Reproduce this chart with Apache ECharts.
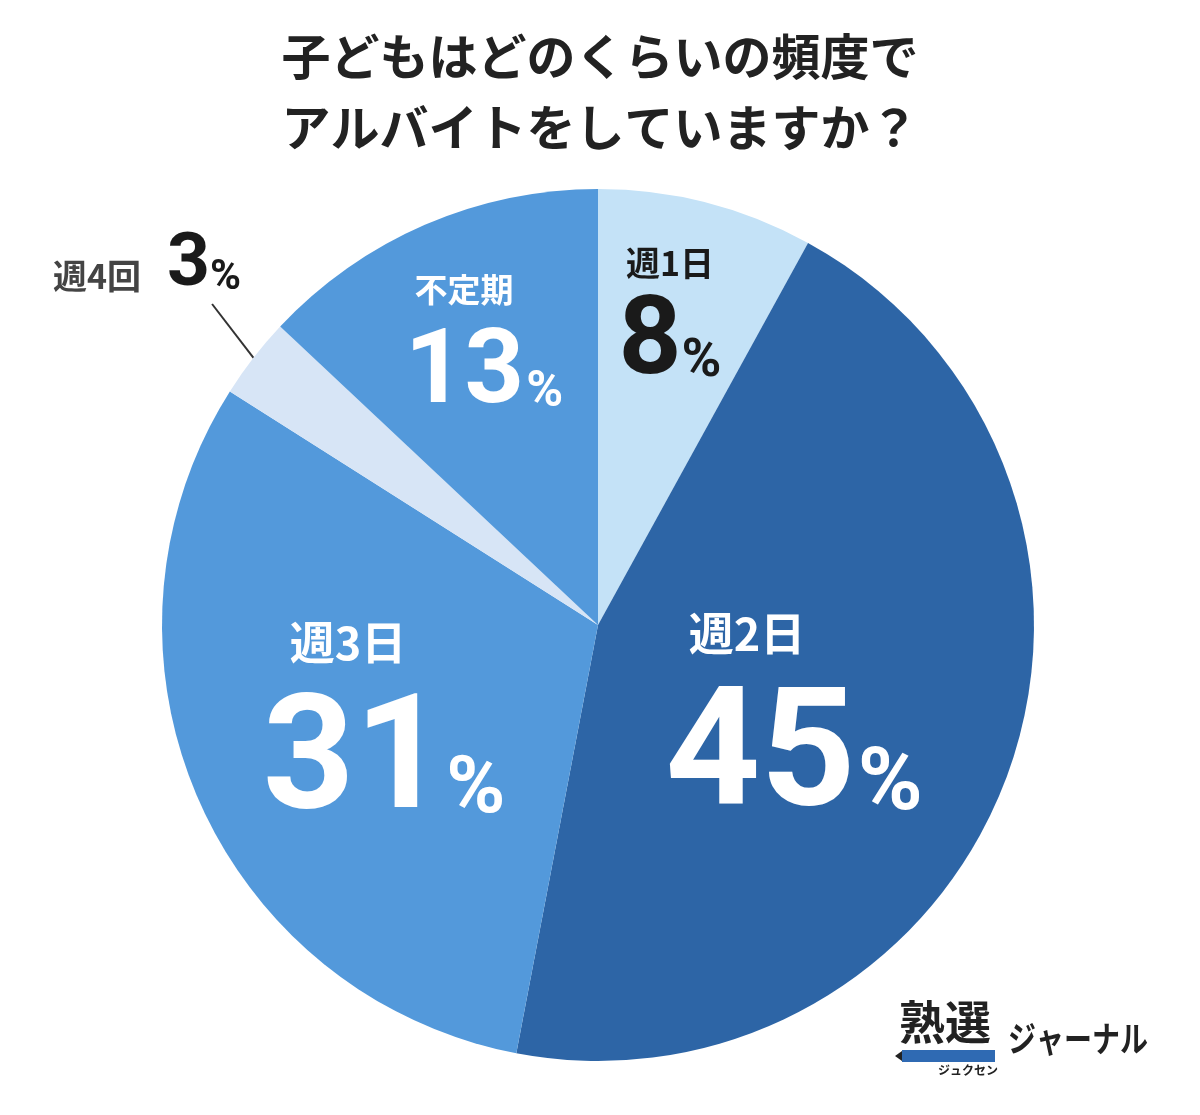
<!DOCTYPE html>
<html>
<head>
<meta charset="utf-8">
<script src="https://cdn.jsdelivr.net/npm/echarts@6/dist/echarts.min.js"></script>
<style>
  html, body { margin: 0; padding: 0; background: #ffffff; }
  #main { width: 1200px; height: 1115px; }
</style>
</head>
<body>
<div id="main"></div>
<script>
// データ
const categories = ['週1日', '週2日', '週3日', '週4回', '不定期'];
const values = [8, 45, 31, 3, 13];

const jp = '"Noto Sans CJK JP", "Noto Sans", sans-serif';
const num = 'Roboto, "Noto Sans", sans-serif';

// スライスごとの見た目
const sliceColors = ['#c4e2f7', '#2d65a6', '#5399db', '#d7e5f6', '#5399db'];

// 2段ラベル（名前＋数値）
const twoLine = (color, nameSize, nameLH, nameShift, numSize, pctSize, pctPadL, pctPadB) => ({
  n: { fontFamily: jp, fontWeight: 'bold', fontSize: nameSize, color: color, lineHeight: nameLH, padding: [0, nameShift, 0, 0] },
  v: { fontFamily: num, fontWeight: 'bold', fontSize: numSize, color: color, lineHeight: numSize * 0.95, verticalAlign: 'bottom' },
  p: { fontFamily: num, fontWeight: 'bold', fontSize: pctSize, color: color, lineHeight: numSize * 0.95, verticalAlign: 'bottom', padding: [0, 0, pctPadB, pctPadL] }
});

const labelStyles = [
  { pos: [670, 315], rich: twoLine('#1a1a1a', 34, 67, 0, 110, 54, 0, 11) },
  { pos: [794, 713], rich: twoLine('#ffffff', 45, 108, 94, 166, 88, 2, 15) },
  { pos: [384, 719], rich: twoLine('#ffffff', 45, 104, 72, 160, 80, 0, 15) },
  { pos: [53, 319], outside: true },
  { pos: [484, 339], rich: twoLine('#ffffff', 33, 80, 40, 104, 50, 2, 10) }
];

// 外側ラベル（週4回）: s は引き出し線の位置合わせ用の余白
const outsideRich = {
  n: { fontFamily: jp, fontWeight: 'bold', fontSize: 34, color: '#444444', padding: [0, 26, 11, 0], verticalAlign: 'bottom', lineHeight: 70 },
  v: { fontFamily: num, fontWeight: 'bold', fontSize: 75, color: '#1a1a1a', verticalAlign: 'bottom', lineHeight: 70 },
  p: { fontFamily: num, fontWeight: 'bold', fontSize: 42, color: '#1a1a1a', verticalAlign: 'bottom', lineHeight: 70, padding: [0, 0, 5, 0] },
  s: { fontSize: 10, width: 130, lineHeight: 70, verticalAlign: 'bottom' }
};

const seriesData = categories.map((name, i) => {
  const st = labelStyles[i];
  return {
    name: name,
    value: values[i],
    itemStyle: { color: sliceColors[i] },
    label: st.outside ? {
      show: true,
      position: 'outside',
      formatter: `{n|${name}}{v|${values[i]}}{p|%}{s| }`,
      rich: outsideRich,
      overflow: 'none',
      padding: [0, 0, 15, 0]
    } : {
      show: true,
      position: 'inside',
      formatter: `{n|${name}}\n{v|${values[i]}}{p|%}`,
      rich: st.rich
    },
    labelLine: {
      show: !!st.outside,
      length: 20,
      length2: 0,
      lineStyle: { color: '#333333', width: 2 }
    }
  };
});

const chart = echarts.init(document.getElementById('main'));
chart.setOption({
  animation: false,
  title: {
    text: '子どもはどのくらいの頻度で\nアルバイトをしていますか？',
    left: 'center',
    top: 16,
    textStyle: {
      fontFamily: jp,
      fontWeight: 'bold',
      fontSize: 49,
      color: '#222222',
      lineHeight: 71
    }
  },
  graphic: [
    {
      type: 'text',
      left: 899,
      top: 999,
      style: { text: '熟選', font: 'bold 46px "Noto Sans CJK JP"', fill: '#222222' }
    },
    {
      type: 'rect',
      shape: { x: 902, y: 1050, width: 93, height: 12 },
      style: { fill: '#2f6ab3' }
    },
    {
      type: 'polygon',
      shape: { points: [[902, 1051], [902, 1061], [895, 1056]] },
      style: { fill: '#222222' }
    },
    {
      type: 'text',
      left: 938,
      top: 1064,
      style: { text: 'ジュクセン', font: 'bold 12px "Noto Sans CJK JP"', fill: '#222222' }
    },
    {
      type: 'text',
      x: 1008,
      y: 1021,
      scaleX: 0.8,
      style: { text: 'ジャーナル', font: 'bold 35px "Noto Sans CJK JP"', fill: '#222222' }
    }
  ],
  series: [
    {
      type: 'pie',
      center: [598, 625],
      radius: [0, 436],
      startAngle: 90,
      clockwise: true,
      data: seriesData,
      labelLayout: function (params) {
        const st = labelStyles[params.dataIndex];
        if (st.outside) {
          return { x: st.pos[0], y: st.pos[1], align: 'left', verticalAlign: 'bottom' };
        }
        return { x: st.pos[0], y: st.pos[1], align: 'center', verticalAlign: 'middle' };
      }
    }
  ]
});
</script>
</body>
</html>
